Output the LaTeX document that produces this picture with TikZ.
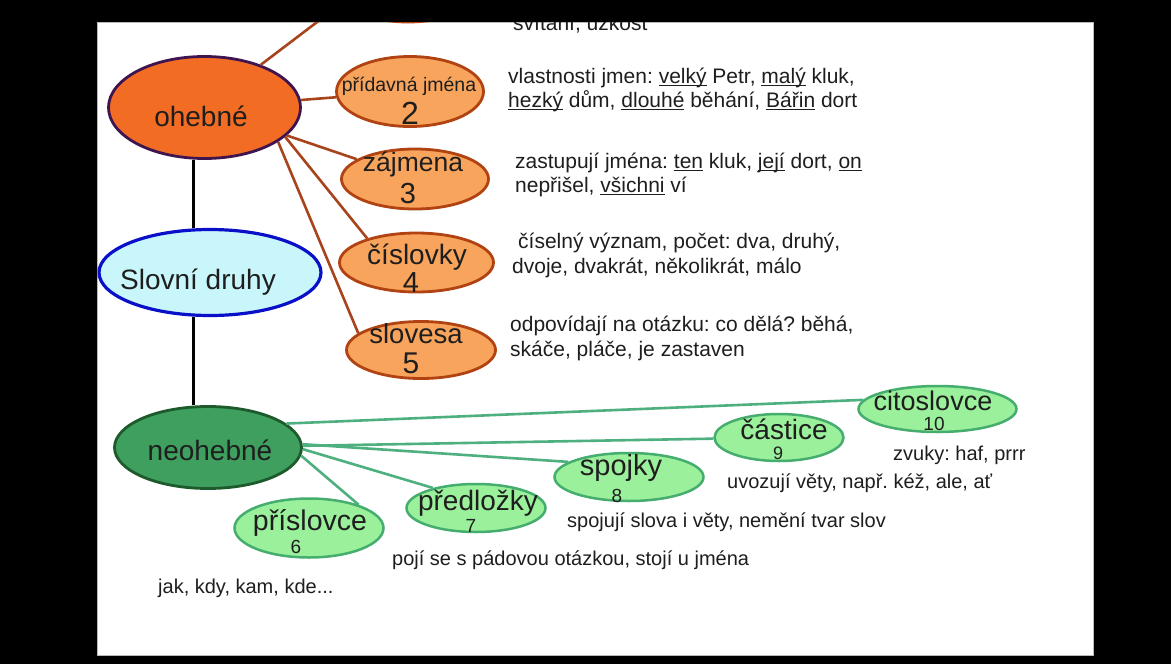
\documentclass[tikz,border=0pt]{standalone}
\usepackage{fontspec}
\setmainfont{Liberation Sans}
\usetikzlibrary{shapes.geometric}
\frenchspacing
\definecolor{ohfill}{HTML}{F36C23}
\definecolor{ohdraw}{HTML}{3F1550}
\definecolor{orfill}{HTML}{F9A45C}
\definecolor{ordraw}{HTML}{B04311}
\definecolor{orlinec}{HTML}{A8441C}
\definecolor{sdfill}{HTML}{C8F6FB}
\definecolor{sddraw}{HTML}{0A10C8}
\definecolor{nefill}{HTML}{3E9F5E}
\definecolor{nedraw}{HTML}{1D5A2C}
\definecolor{grfill}{HTML}{9BF09B}
\definecolor{grdraw}{HTML}{45AD6E}
\definecolor{grlinec}{HTML}{4DB07E}
\definecolor{txt}{HTML}{1E1E1E}
\newcommand\ulw[1]{\setbox0\hbox{#1}\rlap{\rule[-2.6pt]{\wd0}{1.1pt}}\box0\relax}
\tikzset{
  oval/.style={ellipse, inner sep=0pt, line width=2.8pt},
  orov/.style={oval, draw=ordraw, fill=orfill},
  grov/.style={oval, draw=grdraw, fill=grfill, line width=2.5pt},
  word/.style={anchor=base, inner sep=0pt, text=txt},
  desc/.style={anchor=base west, inner sep=0pt, text=txt, font=\fontsize{21}{24}\selectfont},
  gdesc/.style={anchor=base west, inner sep=0pt, text=txt, font=\fontsize{20}{23}\selectfont},
  orl/.style={draw=orlinec, line width=2.6pt},
  grl/.style={draw=grlinec, line width=2.6pt},
  blk/.style={draw=black, line width=3pt}
}
\begin{document}
\begin{tikzpicture}[x=1pt,y=-1pt]
\useasboundingbox (0,0) rectangle (1171,664);
\fill[black] (0,0) rectangle (1171,664);
\fill[white, draw=gray!55, line width=1pt] (97,22) rectangle (1093,655);
\begin{scope}
\clip (97.5,22.5) rectangle (1092.5,654.5);
% main nodes
\node[orov, minimum width=147pt, minimum height=70pt] (p1) at (408,-13) {};
\node[oval, draw=ohdraw, fill=ohfill, minimum width=192pt, minimum height=102pt] (oh) at (204.5,107.5) {};
\node[orov, minimum width=147pt, minimum height=70pt] (pj) at (410,91.5) {};
\node[orov, minimum width=147pt, minimum height=60pt] (zaj) at (415,179) {};
\node[orov, minimum width=154pt, minimum height=59pt] (cis) at (416.5,262.5) {};
\node[orov, minimum width=149pt, minimum height=57pt] (sl) at (421,350) {};
\node[oval, draw=sddraw, fill=sdfill, line width=3.2pt, minimum width=222pt, minimum height=86pt] (sd) at (210,272.5) {};
\node[oval, draw=nedraw, fill=nefill, minimum width=187pt, minimum height=82pt] (neo) at (208,447.5) {};
\node[grov, minimum width=149pt, minimum height=59pt] (pri) at (309,528) {};
\node[grov, minimum width=139pt, minimum height=48pt] (pre) at (476,508) {};
\node[grov, minimum width=149pt, minimum height=48pt] (spo) at (629,477) {};
\node[grov, minimum width=129pt, minimum height=47pt] (cas) at (779,437.5) {};
\node[grov, minimum width=158pt, minimum height=46pt] (cit) at (937.5,409) {};
% connectors
\coordinate (vx) at (193,0);
\draw[blk] (oh.south -| vx) -- (sd.north -| vx);
\draw[blk] (sd.south -| vx) -- (neo.north -| vx);
\draw[orl] (oh) -- (p1.194.6);
\draw[orl] (oh) -- (pj);
\draw[orl] (oh) -- (zaj);
\draw[orl] (oh.-20) -- (cis.154);
\draw[orl] (oh.-25) -- (sl.165);
\draw[grl] (neo.17.5) -- (cit.173.6);
\draw[grl] (neo) -- (cas);
\draw[grl] (neo.2) -- (spo.166);
\draw[grl] (neo.-1) -- (pre.155);
\draw[grl] (neo.-5) -- (pri.25);
% texts in ellipses
\node[word, font=\fontsize{28}{30}\selectfont] (oh-t) at (201,126) {ohebné};
\node[word, font=\fontsize{28}{30}\selectfont] (sd-t) at (198,289) {Slovní druhy};
\node[word, font=\fontsize{28}{30}\selectfont] (neo-t) at (210,460) {neohebné};
\node[word, font=\fontsize{19.5}{21}\selectfont] (pj-t) at (409,91) {přídavná jména};
\node[word, font=\fontsize{32}{34}\selectfont] (pj-n) at (410,124) {2};
\node[word, font=\fontsize{26.5}{28}\selectfont] (zaj-t) at (413,171) {zájmena};
\node[word, font=\fontsize{29}{30}\selectfont] (zaj-n) at (408,203) {3};
\node[word, font=\fontsize{28}{30}\selectfont] (cis-t) at (417,264) {číslovky};
\node[word, font=\fontsize{29}{31}\selectfont] (cis-n) at (411,292) {4};
\node[word, font=\fontsize{27.5}{30}\selectfont] (sl-t) at (416,343) {slovesa};
\node[word, font=\fontsize{30}{32}\selectfont] (sl-n) at (411,373) {5};
\node[word, font=\fontsize{28.5}{30}\selectfont] (pri-t) at (310,530) {příslovce};
\node[word, font=\fontsize{19}{20}\selectfont] (pri-n) at (296,553) {6};
\node[word, font=\fontsize{28}{30}\selectfont] (pre-t) at (478,510) {předložky};
\node[word, font=\fontsize{19}{20}\selectfont] (pre-n) at (471,532) {7};
\node[word, font=\fontsize{29}{30}\selectfont] (spo-t) at (621,475) {spojky};
\node[word, font=\fontsize{19}{20}\selectfont] (spo-n) at (617,502) {8};
\node[word, font=\fontsize{28}{30}\selectfont] (cas-t) at (784,439) {částice};
\node[word, font=\fontsize{18}{20}\selectfont] (cas-n) at (778,459) {9};
\node[word, font=\fontsize{27}{30}\selectfont] (cit-t) at (933,410) {citoslovce};
\node[word, font=\fontsize{19}{20}\selectfont] (cit-n) at (934,430) {10};
% descriptions
\node[desc] (d1) at (513,30) {svítání, úzkost};
\node[desc] (d2a) at (508,83) {vlastnosti jmen: \ulw{velký} Petr, \ulw{malý} kluk,};
\node[desc] (d2b) at (508,107) {\ulw{hezký} dům, \ulw{dlouhé} běhání, \ulw{Bářin} dort};
\node[desc] (d3a) at (515,168) {zastupují jména: \ulw{ten} kluk, \ulw{její} dort, \ulw{on}};
\node[desc] (d3b) at (515,192) {nepřišel, \ulw{všichni} ví};
\node[desc] (d4a) at (518,248) {číselný význam, počet: dva, druhý,};
\node[desc] (d4b) at (512,273) {dvoje, dvakrát, několikrát, málo};
\node[desc] (d5a) at (510,331) {odpovídají na otázku: co dělá? běhá,};
\node[desc] (d5b) at (510,356) {skáče, pláče, je zastaven};
\node[gdesc] (d10) at (893,460) {zvuky: haf, prrr};
\node[gdesc] (d9) at (727,488) {uvozují věty, např. kéž, ale, ať};
\node[gdesc] (d8) at (567,527) {spojují slova i věty, nemění tvar slov};
\node[gdesc] (d7) at (392,565) {pojí se s pádovou otázkou, stojí u jména};
\node[gdesc] (d6) at (158,593) {jak, kdy, kam, kde...};
\end{scope}
\end{tikzpicture}
\end{document}
